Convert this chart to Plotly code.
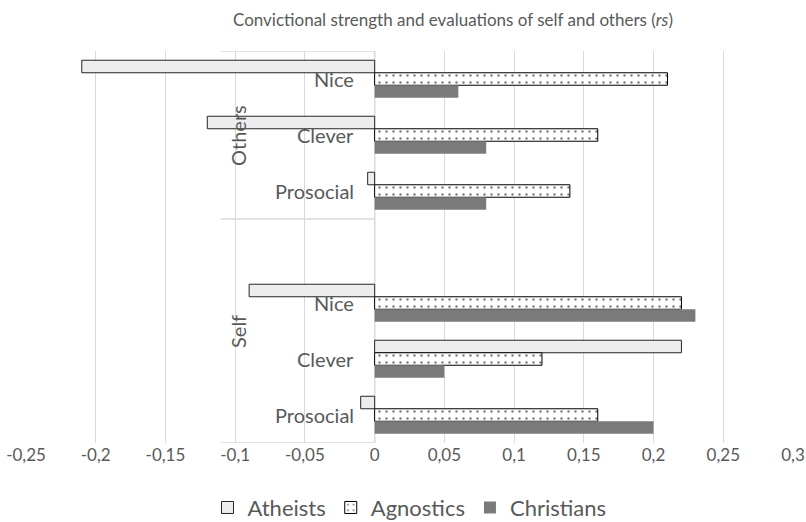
import plotly.graph_objects as go

groups = ["Others", "Others", "Others", "Self", "Self", "Self"]
categories = ["Nice", "Clever", "Prosocial", "Nice", "Clever", "Prosocial"]
series_names = ["Atheists", "Agnostics", "Christians"]
atheists = [-0.21, -0.12, -0.005, -0.09, 0.22, -0.01]
agnostics = [0.21, 0.16, 0.14, 0.22, 0.12, 0.16]
christians = [0.06, 0.08, 0.08, 0.23, 0.05, 0.20]
tick_vals = [-0.25, -0.2, -0.15, -0.1, -0.05, 0, 0.05, 0.1, 0.15, 0.2, 0.25, 0.3]
tick_text = ["-0,25", "-0,2", "-0,15", "-0,1", "-0,05", "0", "0,05", "0,1", "0,15", "0,2", "0,25", "0,3"]

FONT = "Lato, 'Open Sans', sans-serif"
TXT = "#595959"

# slot index: a blank slot separates the two groups
ypos = []
for i, g in enumerate(groups):
    ypos.append(i + (1 if g == "Self" else 0))

fig = go.Figure()
fig.add_trace(go.Bar(
    y=ypos, x=atheists, orientation="h", name=series_names[0],
    marker=dict(color="#ededed", line=dict(color="#262626", width=1)),
))
fig.add_trace(go.Bar(
    y=ypos, x=agnostics, orientation="h", name=series_names[1],
    marker=dict(color="white", line=dict(color="#000000", width=1),
                pattern=dict(shape=".", fgcolor="#000000", bgcolor="white",
                             size=7, solidity=0.1)),
))
fig.add_trace(go.Bar(
    y=ypos, x=christians, orientation="h", name=series_names[2],
    marker=dict(color="#7a7a7a", line=dict(width=0)),
))

annotations = []
for yp, c in zip(ypos, categories):
    annotations.append(dict(x=0, y=yp, xref="x", yref="y", text=c, showarrow=False,
                            xanchor="right", yanchor="middle", xshift=-19,
                            font=dict(family=FONT, size=20, color=TXT)))
# group labels
group_names = []
for g in groups:
    if g not in group_names:
        group_names.append(g)
bounds = {"Others": (-0.5, 2.5), "Self": (2.5, 6.5)}
for g in group_names:
    lo, hi = bounds[g]
    annotations.append(dict(x=-0.098, y=(lo + hi) / 2, xref="x", yref="y", text=g,
                            showarrow=False, textangle=-90, xanchor="center", yanchor="middle",
                            font=dict(family=FONT, size=20, color=TXT)))

shapes = []
for yb in [-0.5, 2.5, 6.5]:
    shapes.append(dict(type="line", xref="x", yref="y", x0=-0.1105, x1=0, y0=yb, y1=yb,
                       line=dict(color="#d9d9d9", width=1.3)))
shapes.append(dict(type="line", xref="x", yref="y", x0=0, x1=0, y0=-0.5, y1=6.5,
                   line=dict(color="#bfbfbf", width=1.3), layer="below"))

fig.update_layout(
    width=806, height=522,
    margin=dict(l=26, r=13, t=51, b=79, autoexpand=False),
    paper_bgcolor="white", plot_bgcolor="white",
    barmode="group", bargap=0.33, bargroupgap=0,
    title=dict(text="Convictional strength and evaluations of self and others (<i>rs</i>)",
               x=0.562, xanchor="center", y=0.962, yanchor="middle",
               font=dict(family=FONT, size=17, color=TXT)),
    xaxis=dict(range=[-0.25, 0.3], tickvals=tick_vals, ticktext=tick_text, automargin=False,
               showgrid=True, gridcolor="#d9d9d9", gridwidth=1, zeroline=False,
               showline=False, ticks="", tickfont=dict(family=FONT, size=17, color=TXT)),
    yaxis=dict(range=[6.5, -0.5], showticklabels=False, showgrid=False, zeroline=False,
               showline=False, ticks="", automargin=False),
    legend=dict(orientation="h", x=0.5, xanchor="center", y=-0.165, yanchor="middle",
                font=dict(family=FONT, size=22, color=TXT), traceorder="normal",
                itemwidth=30),
    annotations=annotations, shapes=shapes,
    showlegend=True,
)

fig.write_html("out.html", config={"displayModeBar": False},
               post_script="document.body.style.margin='0';document.body.style.padding='0';")
